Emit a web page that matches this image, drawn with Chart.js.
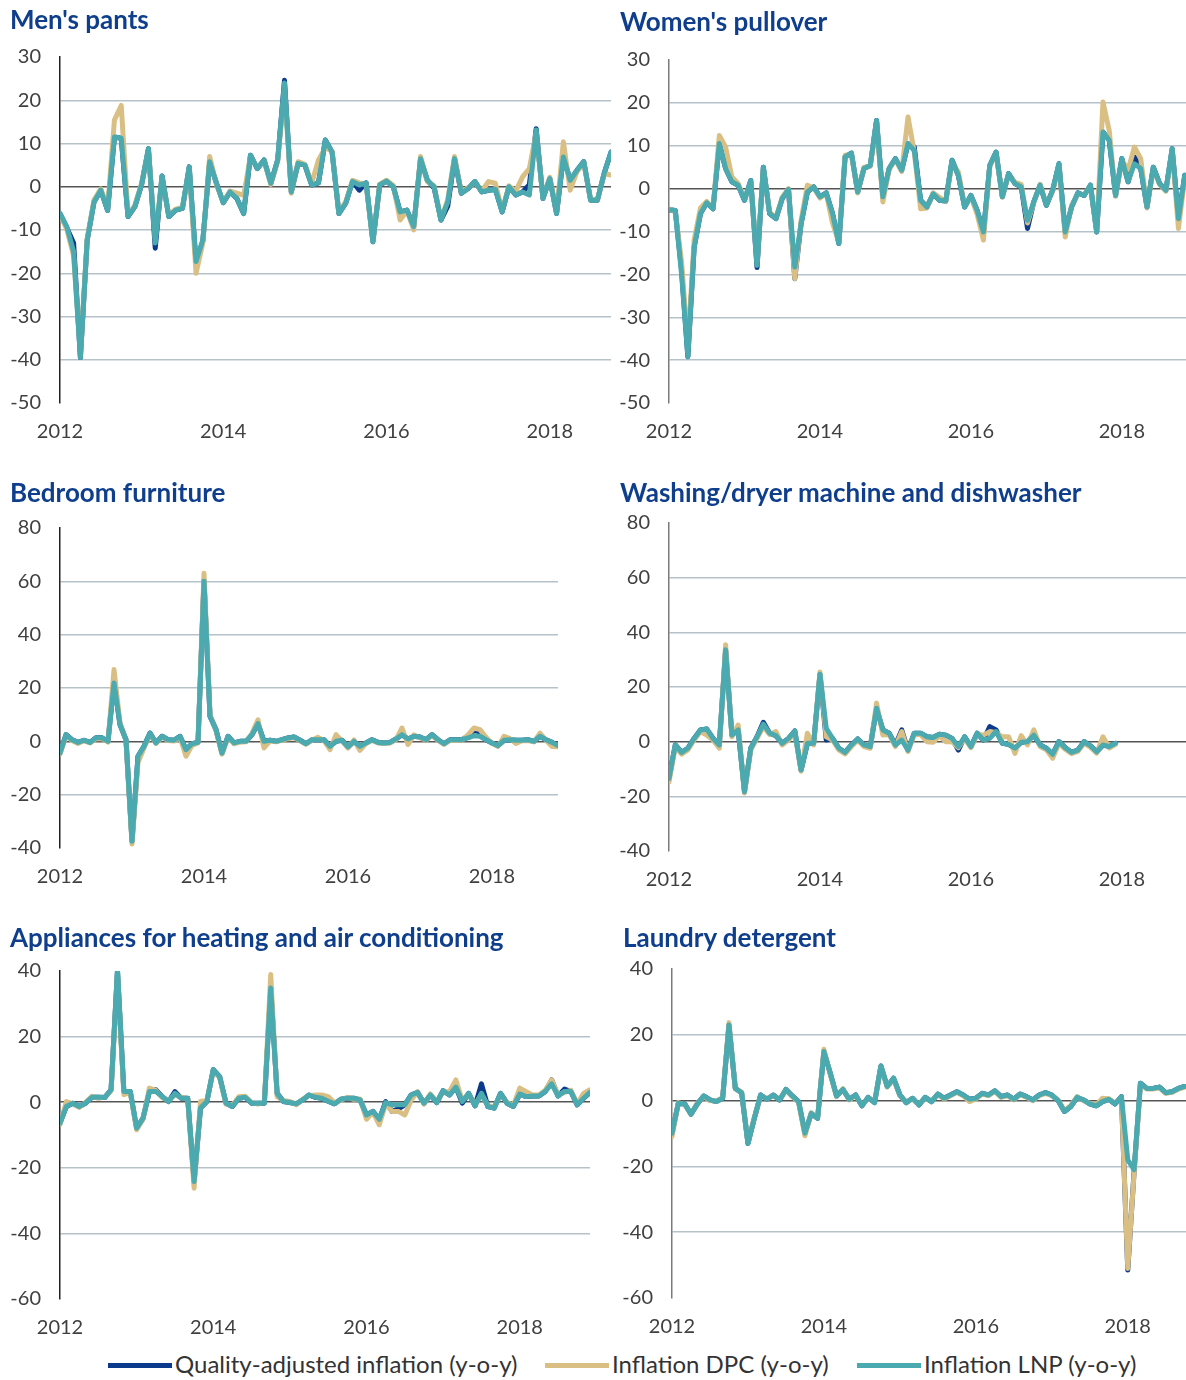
<!DOCTYPE html>
<html>
<head>
<meta charset="utf-8">
<title>Quality-adjusted inflation</title>
<script src="https://cdn.jsdelivr.net/npm/chart.js@4.4.1/dist/chart.umd.min.js"></script>
<style>
  html, body { margin: 0; padding: 0; background: #fff; }
  body { position: relative; width: 1186px; height: 1380px; overflow: hidden; font-family: Lato, "Open Sans", sans-serif; }
  canvas { position: absolute; }
  .panel-title { position: absolute; font: bold 26px Lato, sans-serif; line-height: 26px; color: #0f3f8c; white-space: nowrap; }
  .legend-item { position: absolute; top: 1349px; height: 28px; line-height: 28px; font: 24px Lato, sans-serif; color: #333; white-space: nowrap; }
  .legend-item .swatch { display: inline-block; width: 64px; height: 5px; vertical-align: middle; margin-right: 3px; position: relative; top: -1px; }
</style>
</head>
<body>
<script>
// Monthly y-o-y inflation, Jan 2012 onwards (index 0 = Jan 2012)
const SERIES_NAMES = ["Quality-adjusted inflation (y-o-y)", "Inflation DPC (y-o-y)", "Inflation LNP (y-o-y)"];
const YEAR_TICKS = [0, 24, 48, 72];
const YEAR_LABELS = ["2012", "2014", "2016", "2018"];

// Men's pants
const pantsQA = [
  -6.2, -9.5, -13, -39.5, -12.3, -3.5, -0.8, -5.5, 11.5, 11.2, -6.9, -4.6,
  0.5, 8.8, -14.2, 2.5, -6.9, -5.4, -5, 4.6, -17.8, -12.5, 5.8, 0.8,
  -3.7, -1.2, -2.7, -6.2, 7.3, 4.2, 6.2, 0.8, 6.2, 24.6, -1.2, 5.4,
  5, 0.4, 0.9, 10.8, 8, -6.2, -3.8, 1.2, -0.8, 0.9, -12.7, 0.4,
  1.3, 0, -5.8, -5.4, -9.2, 6.5, 1.5, -0.3, -7.7, -4.5, 6.5, -1.5,
  -0.4, 1.2, -1.2, -0.8, -0.6, -5.8, 0, -1.9, -1.2, 0.5, 13.4, -2.7,
  1.9, -6.2, 6.9, 1.5, 3.8, 5.8, -3.1, -3.1, 3.1, 8
];
const pantsDPC = [
  -6.4, -9.8, -16, -38.5, -12, -3, -0.5, -5, 15.4, 18.8, -6.5, -4.3,
  0.8, 8.5, -12, 2, -6.5, -5.2, -4.8, 4.3, -20, -13, 7, 0.5,
  -3.5, -1, -1.5, -2, 7, 4.5, 6, 0.5, 6, 22.5, -1.5, 5.8,
  5.2, 0.8, 6.2, 9, 8.2, -6, -3.5, 1.5, 0.9, 0.5, -12.5, 0.6,
  1.5, 0.3, -7.7, -5.5, -10, 7, 1.2, 0.2, -7.5, -3, 7, -1.3,
  -0.2, 1, -1, 1.2, 0.8, -5.5, 0.2, -1, 2.3, 4.2, 12.5, -2.5,
  2.2, -6, 10.4, -0.8, 3.5, 5.5, -3, -3, 3, 2.7
];
const pantsLNP = [
  -6.2, -9.2, -15, -39.5, -12.3, -3.5, -0.8, -5.5, 11.5, 11.2, -6.9, -4.6,
  0.5, 8.8, -13, 2.5, -6.9, -5.4, -5, 4.6, -17.3, -12.3, 5.8, 0.8,
  -3.7, -1.2, -2.7, -6.2, 7.3, 4.2, 6.2, 0.8, 6.2, 24, -1.2, 5.4,
  5, 0.4, 0.9, 10.8, 8, -6.2, -3.8, 1.2, 0.4, 0.9, -12.7, 0.4,
  1.3, 0, -5.8, -5.4, -9.2, 6.5, 1.5, 0, -7.7, -3.5, 6.5, -1.5,
  -0.4, 1.2, -1.2, -0.8, -0.6, -5.8, 0, -1.9, -1.2, -1.9, 13.1, -2.7,
  1.9, -6.2, 6.9, 1.5, 3.8, 5.8, -3.1, -3.1, 3.1, 8
];

// Women's pullover
const pulloverQA = [
  -4.9, -5.1, -19, -39.2, -13.6, -5.8, -3.3, -4.7, 10.5, 4.7, 1.6, 0.8,
  -2.7, 1.9, -18.4, 5, -5.8, -7, -2.3, -0.2, -21, -8.2, -0.8, 0.4,
  -1.9, -1, -5.8, -12.8, 7.4, 8.3, -0.8, 4.7, 5.4, 15.9, -1.9, 4.7,
  7, 4.3, 10.5, 9.7, -2.7, -4.3, -1.2, -2.7, -2.9, 6.6, 3.1, -4.3,
  -1.6, -5.1, -10.1, 5.4, 8.5, -1.9, 3.5, 1.2, 0.4, -9.3, -3.1, 0.8,
  -3.9, -0.4, 5.8, -10.1, -4.3, -1, -1.6, 0.8, -10.1, 13.2, 11.3, -1.6,
  7, 1.6, 7.4, 4.7, -4.3, 5, 1.2, -0.4, 9.3, -7, 3.1
];
const pulloverDPC = [
  -4.7, -5.5, -17, -37, -12, -4.5, -3, -4.5, 12.4, 9.7, 2.7, 1.2,
  -2.5, 1.5, -17, 4.5, -5.5, -6.8, -2, 0, -21, -7.5, 0.8, 0.2,
  -2.2, -1.2, -8, -12.5, 7.8, 8, -1, 5, 5.2, 15.5, -3.1, 4.5,
  6.8, 4, 16.7, 8.5, -4.7, -4.5, -1, -2, -3, 6, 3.9, -4,
  -1.8, -6, -12, 5.2, 8.2, -2, 3.3, 1.5, 1, -8, -3.3, 1,
  -3.7, -0.6, 5.5, -11.3, -4, -1.2, -1.4, 0.6, -10, 20.2, 13.5, -1.8,
  6.5, 4.4, 9.7, 7, -4.5, 4.6, 1, -0.6, 9, -9.3, 2.5
];
const pulloverLNP = [
  -4.9, -5.1, -20, -39.2, -13.6, -5.8, -3.3, -4.7, 10.5, 4.7, 1.6, 0.8,
  -2.7, 1.9, -17.9, 5, -5.8, -7, -2.3, -0.2, -18.3, -8.2, -0.8, 0.4,
  -1.9, -1, -5.8, -12.8, 7.4, 8.3, -0.8, 4.7, 5.4, 15.9, -1.9, 4.7,
  7, 4.3, 10.5, 8.9, -2.7, -4.3, -1.2, -2.7, -2.9, 6.6, 3.1, -4.3,
  -1.6, -5.1, -10.1, 5.4, 8.5, -1.9, 3.5, 1.2, 0.4, -7.4, -3.1, 0.8,
  -3.9, -0.4, 5.8, -10.1, -4.3, -1, -1.6, 0.8, -10.1, 13.2, 11.3, -1.6,
  7, 1.6, 5.8, 4.7, -4.3, 5, 1.2, -0.4, 9.3, -7, 3.1
];

// Bedroom furniture
const bedroomQA = [
  -4.4, 2.5, 0.6, -0.4, 0.4, -0.4, 1.3, 1.3, 0, 22.5, 6.3, 0.6,
  -37.5, -5.6, -1.9, 3.1, -0.6, 1.9, 0.6, 0.4, 1.9, -3.1, -0.9, -0.4,
  60.5, 9.4, 4.4, -4.4, 1.9, -0.6, 0, 0, 2.5, 6.6, 0, 0.4,
  0, 0.6, 1.3, 1.6, 0.4, -0.9, 0.6, 0.6, 0.6, -1.9, 0, 0.4,
  -2.1, 0, -1.9, -0.6, 0.6, -0.4, -0.6, -0.4, 0.9, 2.5, 0.9, 1.9,
  1.6, 0.6, 2.5, 0.6, -0.9, 0.6, 0.6, 0.6, 2, 4.1, 3.5, 0.6,
  -0.6, -1.6, 0.4, 0.6, 0.4, 0.4, 0.6, 0, 1.9, 0.6, -0.4, -1.6
];
const bedroomDPC = [
  -4.8, 2, 0.3, -0.8, 0.2, -0.6, 1, 1, -0.3, 26.9, 7, 0.3,
  -38.5, -8, -2.5, 2.6, -0.8, 1.6, 0.3, 0.1, 1.5, -5.6, -1.5, -0.6,
  63, 10, 4, -4.8, 1.6, -0.9, -0.3, -0.2, 3, 8.1, -2.5, 0.2,
  -0.2, 0.4, 1, 1.3, 0.2, -1.1, 0.4, 1.5, 0.3, -3.1, 2.5, 0.1,
  -2.5, 0.5, -3.4, -0.8, 0.3, -0.6, -0.8, -0.6, 0.6, 5, -1.2, 2.4,
  1.3, 0.4, 2.2, 0.3, -1.2, 0.3, 0.3, 0.4, 2.4, 5, 4.4, 1.5,
  -0.8, -1.9, 1.9, 1, -0.8, 0.2, 0.3, -0.2, 3.1, 0.4, -1.9, -2
];
const bedroomLNP = [
  -4.4, 2.5, 0.6, -0.4, 0.4, -0.4, 1.3, 1.3, 0, 21.9, 6.3, 0.6,
  -37.5, -5.6, -1.9, 3.1, -0.6, 1.9, 0.6, 0.4, 1.9, -3.1, -0.9, -0.4,
  60, 9.4, 4.4, -4.4, 1.9, -0.6, 0, 0, 2.5, 6.6, 0, 0.4,
  0, 0.6, 1.3, 1.6, 0.4, -0.9, 0.6, 0.6, 0.6, -1.9, 0, 0.4,
  -2.1, 0, -1.9, -0.6, 0.6, -0.4, -0.6, -0.4, 0.9, 2.5, 0.9, 1.9,
  1.6, 0.6, 2.5, 0.6, -0.9, 0.6, 0.6, 0.6, 1.3, 2.1, 1.9, 0.6,
  -0.6, -1.6, 0.4, 0.6, 0.4, 0.4, 0.6, 0, 1.9, 0.6, -0.4, -1.6
];

// Washing/dryer machine and dishwasher (ends Dec 2017)
const washingQA = [
  -13.5, -1.2, -3.9, -2.4, 1.2, 4.3, 4.6, 1.2, -1.2, 33.6, 2.4, 4.3,
  -18.3, -2.4, 1.8, 7.1, 3.1, 2.2, -0.6, 1.2, 3.9, -10.4, -0.6, -0.6,
  24.7, 0.6, 1.2, -2.4, -3.9, -1.2, 1, -1.2, -1.8, 12.2, 4.3, 3.1,
  -1.2, 4.3, -3.1, 3.1, 3.1, 1.8, 1.5, 2.7, 2.4, 1.2, -3.1, 1.8,
  -1.8, 3.1, 0.6, 5.5, 4.3, -0.6, -1, -2.4, -0.2, 0, 2.4, -1.2,
  -2.4, -4.6, 0, -2.2, -3.9, -3.1, 0, -1.5, -3.7, -1.2, -1.8, -0.6
];
const washingDPC = [
  -14.8, -1.8, -4.6, -3, 0.6, 3.7, 2.4, 0.6, -2.4, 35.5, 1.8, 6.1,
  -18.8, -3, 1.2, 5.5, 2.6, 3.7, -1.2, 0.6, 3.3, -10.8, 3.1, -1.2,
  25.5, 1.8, 0.6, -3, -4.5, -1.8, 0.5, -1.8, -2.4, 14.1, 2.4, 2.6,
  -1.8, 3.7, -3.6, 2.6, 2.6, 0, -0.2, 2.2, 0, 0, -2.2, 1.2,
  -2.2, 2.6, 2.4, 3.7, 3.3, 1.8, 1.8, -4.3, 2.2, -1.2, 4.3, -1.8,
  -3, -6.1, -0.6, -2.8, -4.4, -3.6, -0.6, -2, -4.2, 1.8, -2.3, -1
];
const washingLNP = [
  -13.5, -1.2, -3.9, -2.4, 1.2, 4.3, 4.6, 1.2, -1.2, 33.6, 2.4, 4.3,
  -18.3, -2.4, 1.8, 6.4, 3.1, 2.2, -0.6, 1.2, 3.9, -10.4, -0.6, -0.6,
  24.7, 4.9, 1.2, -2.4, -3.9, -1.2, 1, -1.2, -1.8, 12.2, 4.3, 3.1,
  -1.2, 0.6, -3.1, 3.1, 3.1, 1.8, 1.5, 2.7, 2.4, 1.2, -1.8, 1.8,
  -1.8, 3.1, 0.6, 1.2, 3.7, -0.6, -1, -2.4, -0.2, 0, 2.4, -1.2,
  -2.4, -4.6, 0, -2.2, -3.9, -3.1, 0, -1.5, -3.7, -1.2, -1.8, -0.6
];

// Appliances for heating and air conditioning
const heatingQA = [
  -6.4, -1.3, -0.3, -1.3, -0.3, 1.5, 1.5, 1.4, 3.8, 40, 3.3, 3.3,
  -7.9, -4.9, 3.3, 3.8, 1.7, 0.2, 3.2, 1.2, 1.2, -24.2, -1.8, 0.2,
  9.9, 7.8, -0.3, -1.3, 1.2, 1.5, -0.3, -0.3, -0.3, 34.8, 2.7, 0.2,
  -0.1, -0.5, 0.7, 2.2, 1.5, 1.2, 0.3, -0.5, 0.9, 1.2, 1.2, 0.7,
  -3.9, -2.8, -5.2, 0.2, -2.8, -2, -0.8, 2.2, 3, -0.3, 2.2, -0.1,
  3.5, 2.2, 4.6, -0.3, 2.7, -1.1, 5.6, -1.3, -1.8, 2.7, -0.3, -1.3,
  2.5, 1.7, 1.9, 1.9, 3.3, 6.8, 1.9, 4, 3.3, -0.8, 1.2, 3
];
const heatingDPC = [
  -6.8, 0.2, -0.5, -1.6, -0.1, 1.8, 1.2, 1.6, 3.5, 39, 2.3, 3,
  -8.4, -5.2, 4.3, 3.6, 1.4, 0.5, 2.2, 1.5, 1, -26.2, 0.2, 0.5,
  9.5, 7.5, -0.6, -1, 1.7, 1.8, -0.1, -0.6, 0, 38.9, 1.7, 0.5,
  0.2, -0.8, 0.9, 2, 2.2, 2.2, 1.7, -0.2, 0.6, 1.5, 0.9, 1,
  -5.2, -3, -6.9, -0.4, -2.8, -2.8, -3.9, 0.7, 3.2, -0.6, 2.5, 0.2,
  3.2, 3.2, 6.8, 0.5, 2.4, -0.8, 2.4, -1, -1.5, 2.4, 0, -1,
  4.3, 3.2, 2.2, 2.2, 3.6, 6.8, 2.2, 3, 3.6, -0.5, 2.7, 3.8
];
const heatingLNP = [
  -6.4, -1.3, -0.3, -1.3, -0.3, 1.5, 1.5, 1.4, 3.8, 40.5, 3.3, 3.3,
  -7.9, -4.9, 3.3, 3.3, 1.7, 0.2, 2.7, 1.2, 1.2, -24.2, -1.8, 0.2,
  9.9, 7.8, -0.3, -1.3, 1.2, 1.5, -0.3, -0.3, -0.3, 34.8, 2.7, 0.2,
  -0.1, -0.5, 0.7, 2.2, 1.5, 1.2, 0.3, -0.5, 0.9, 1.2, 1.2, 0.7,
  -3.9, -2.8, -5.2, -0.1, -0.8, -0.8, -0.8, 2.2, 3, -0.3, 2.2, -0.1,
  3.5, 2.2, 4.6, 0.2, 2.7, -1.1, 2.7, -1.3, -1.8, 2.7, -0.3, -1.3,
  2.5, 1.7, 1.9, 1.9, 3.3, 5.6, 1.9, 3.3, 3.3, -0.8, 1.2, 3
];

// Laundry detergent
const detergentQA = [
  -9.9, -0.8, -1, -4.1, -1, 1.4, 0.2, -0.3, 0.7, 23, 3.7, 2.4,
  -13, -5.4, 1.7, 0.4, 1.7, 0.2, 3.4, 1.4, -0.3, -9.9, -3.9, -5.4,
  14.9, 8.3, 1.4, 3.4, 0.4, 1.7, -1.6, 1, -0.6, 10.5, 4.3, 6.8,
  1.7, -0.6, 0.7, -1.3, 1, -0.3, 2, 0.7, 1.7, 2.7, 1.7, 0.4,
  0.7, 2.2, 1.7, 3, 1.2, 1.7, 0.4, 2, 1.2, 0.2, 1.7, 2.4,
  1.7, 0, -3.3, -1.8, 1, 0.2, -1, -1.6, -0.3, 0.4, -1, 1.2,
  -51.5, -21.5, 5.3, 3.7, 3.7, 4.1, 2.4, 2.7, 3.7, 4.3
];
const detergentDPC = [
  -10.9, -0.6, -1.2, -4, -0.8, 1.2, 0, -0.2, 0.9, 23.7, 3.5, 2.6,
  -12.7, -5.2, 1.5, 0.6, 1.5, 0.4, 3.2, 1.2, -0.5, -10.7, -3.7, -5.2,
  15.6, 8, 1.2, 3.6, 0.2, 1.5, -1.4, 0.8, -0.4, 10.3, 4.1, 6.5,
  1.5, -0.4, 0.5, -1.1, 0.8, -0.1, 1.8, 0.5, 1.5, 2.5, 1.5, -0.3,
  0.5, 2, 1.5, 2.8, 1, 1.5, 0.2, 1.8, 1, 0, 1.5, 2.2,
  1.5, 0.2, -3, -1.5, 1.2, 0, -0.8, -1.4, 0.7, 0.6, -0.8, 1,
  -51, -22, 5, 3.5, 3.5, 3.9, 2.2, 2.5, 3.5, 4.1
];
const detergentLNP = [
  -9.9, -0.8, -1, -4.1, -1, 1.4, 0.2, -0.3, 0.7, 23, 3.7, 2.4,
  -13, -5.4, 1.7, 0.4, 1.7, 0.2, 3.4, 1.4, -0.3, -9.9, -3.9, -5.4,
  14.9, 8.3, 1.4, 3.4, 0.4, 1.7, -1.6, 1, -0.6, 10.5, 4.3, 6.8,
  1.7, -0.6, 0.7, -1.3, 1, -0.3, 2, 0.7, 1.7, 2.7, 1.7, 0.4,
  0.7, 2.2, 1.7, 3, 1.2, 1.7, 0.4, 2, 1.2, 0.2, 1.7, 2.4,
  1.7, 0, -3.3, -1.8, 1, 0.2, -1, -1.6, -0.3, 0.4, -1, 1.2,
  -18, -21, 5.3, 3.7, 3.7, 4.1, 2.4, 2.7, 3.7, 4.3
];

// Styling
const SERIES_COLORS = ["#0b3a8c", "#dabf85", "#4aaab0"];
const GRID_COLOR = "#b6c2ca";
const ZERO_COLOR = "#555555";
const TICK_COLOR = "#404040";
const FONT = "Lato";
const Y_AXIS_W = 60;   // room for y labels left of the plot
const X_AXIS_H = 45;   // room for year labels under the plot
const PAD_TOP = 20;
const PAD_RIGHT = 3;

// Panel layout: plot area in page pixels + axis ranges
const panels = [
  { title: "Men's pants", qa: pantsQA, dpc: pantsDPC, lnp: pantsLNP,
    yMin: -50, yMax: 30, yStep: 10, xMax: 81,
    area: { left: 60, top: 57, right: 611, bottom: 403 }, titleAt: [10, 6], axisColor: "#222" },
  { title: "Women's pullover", qa: pulloverQA, dpc: pulloverDPC, lnp: pulloverLNP,
    yMin: -50, yMax: 30, yStep: 10, xMax: 82.2,
    area: { left: 669, top: 60, right: 1186, bottom: 403 }, titleAt: [620, 8], axisColor: "#7a7a7a" },
  { title: "Bedroom furniture", qa: bedroomQA, dpc: bedroomDPC, lnp: bedroomLNP,
    yMin: -40, yMax: 80, yStep: 20, xMax: 83,
    area: { left: 60, top: 528, right: 558, bottom: 848 }, titleAt: [10, 479], axisColor: "#222" },
  { title: "Washing/dryer machine and dishwasher", qa: washingQA, dpc: washingDPC, lnp: washingLNP,
    yMin: -40, yMax: 80, yStep: 20, xMax: 82.2,
    area: { left: 669, top: 523, right: 1186, bottom: 851 }, titleAt: [620, 479], axisColor: "#7a7a7a" },
  { title: "Appliances for heating and air conditioning", qa: heatingQA, dpc: heatingDPC, lnp: heatingLNP,
    yMin: -60, yMax: 40, yStep: 20, xMax: 83,
    area: { left: 60, top: 971, right: 590, bottom: 1299 }, titleAt: [10, 924], axisColor: "#222" },
  { title: "Laundry detergent", qa: detergentQA, dpc: detergentDPC, lnp: detergentLNP,
    yMin: -60, yMax: 40, yStep: 20, xMax: 81.2,
    area: { left: 672, top: 969, right: 1186, bottom: 1298 }, titleAt: [623, 924], axisColor: "#7a7a7a" }
];

function toPoints(values) {
  return values.map((v, i) => ({ x: i, y: v }));
}

function makeDataset(label, values, color, order) {
  return {
    label,
    data: toPoints(values),
    borderColor: color,
    backgroundColor: color,
    borderWidth: 5,
    pointRadius: 0,
    tension: 0,
    borderJoinStyle: "round",
    borderCapStyle: "round",
    order
  };
}

function drawPanel(p) {
  const plotW = p.area.right - p.area.left;
  const plotH = p.area.bottom - p.area.top;
  const W = Y_AXIS_W + plotW + PAD_RIGHT;
  const H = PAD_TOP + plotH + X_AXIS_H;

  const canvas = document.createElement("canvas");
  canvas.width = W;
  canvas.height = H;
  canvas.style.width = W + "px";
  canvas.style.height = H + "px";
  canvas.style.left = (p.area.left - Y_AXIS_W) + "px";
  canvas.style.top = (p.area.top - PAD_TOP) + "px";
  document.body.appendChild(canvas);

  const title = document.createElement("div");
  title.className = "panel-title";
  title.textContent = p.title;
  title.style.left = p.titleAt[0] + "px";
  title.style.top = p.titleAt[1] + "px";
  document.body.appendChild(title);

  const chart = new Chart(canvas.getContext("2d"), {
    type: "line",
    data: {
      datasets: [
        makeDataset(SERIES_NAMES[0], p.qa, SERIES_COLORS[0], 2),
        makeDataset(SERIES_NAMES[1], p.dpc, SERIES_COLORS[1], 1),
        makeDataset(SERIES_NAMES[2], p.lnp, SERIES_COLORS[2], 0)
      ]
    },
    options: {
      responsive: false,
      maintainAspectRatio: false,
      animation: false,
      devicePixelRatio: 1,
      layout: { padding: { top: PAD_TOP, right: PAD_RIGHT, left: 0, bottom: 0 } },
      plugins: {
        legend: { display: false },
        title: { display: false },
        tooltip: { enabled: false }
      },
      scales: {
        x: {
          type: "linear",
          min: 0,
          max: p.xMax,
          afterBuildTicks: (axis) => {
            axis.ticks = YEAR_TICKS.map((v) => ({ value: v }));
          },
          afterFit: (axis) => { axis.height = X_AXIS_H; },
          grid: { display: false, drawTicks: false },
          border: { display: false },
          ticks: {
            autoSkip: false,
            maxRotation: 0,
            padding: 17,
            color: TICK_COLOR,
            font: { family: FONT, size: 20 },
            callback: (value, index) => YEAR_LABELS[index]
          }
        },
        y: {
          min: p.yMin,
          max: p.yMax,
          afterFit: (axis) => { axis.width = Y_AXIS_W; },
          border: { display: true, color: p.axisColor, width: 1.5 },
          grid: {
            drawTicks: false,
            lineWidth: 1.5,
            color: (ctx) => {
              const v = ctx.tick ? ctx.tick.value : null;
              if (v === p.yMin || v === p.yMax) return "rgba(0,0,0,0)";
              return v === 0 ? ZERO_COLOR : GRID_COLOR;
            }
          },
          ticks: {
            stepSize: p.yStep,
            padding: 19,
            color: TICK_COLOR,
            font: { family: FONT, size: 20 }
          }
        }
      }
    }
  });

  // the y labels can push the plot down; grow the canvas so the plot keeps its height
  const extra = Math.round(chart.chartArea.top - PAD_TOP);
  if (extra !== 0) {
    chart.resize(W, H + extra);
    canvas.style.top = (p.area.top - chart.chartArea.top) + "px";
  }
}

// Shared legend under the panels
function drawLegend() {
  const lefts = [108, 545, 857];
  SERIES_NAMES.forEach((name, i) => {
    const item = document.createElement("div");
    item.className = "legend-item";
    item.style.left = lefts[i] + "px";
    item.innerHTML = `<span class="swatch" style="background:${SERIES_COLORS[i]}"></span>${name}`;
    document.body.appendChild(item);
  });
}

panels.forEach(drawPanel);
drawLegend();
</script>
</body>
</html>
